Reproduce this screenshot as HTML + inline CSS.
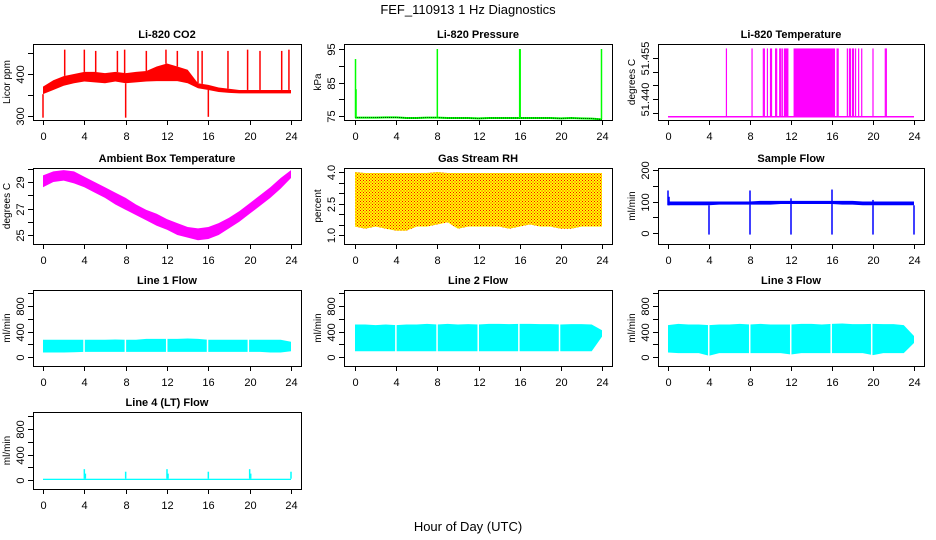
<!DOCTYPE html>
<html><head><meta charset="utf-8"><style>
html,body{margin:0;padding:0;background:#fff}
svg{display:block;font-family:"Liberation Sans",Arial,sans-serif}
</style></head><body>
<svg id="c" width="936" height="540" viewBox="0 0 936 540">
<defs><pattern id="rh" width="3" height="3" patternUnits="userSpaceOnUse"><rect width="3" height="3" fill="#ffff00"/><rect width="1" height="1" fill="#ff0000"/><rect x="1.5" y="1.5" width="1" height="1" fill="#ff0000"/></pattern></defs>
<text x="468" y="14" text-anchor="middle" font-size="13">FEF_110913  1 Hz Diagnostics</text>
<text x="468" y="531" text-anchor="middle" font-size="13">Hour of Day (UTC)</text>
</svg>
<script>
// ---------- data (estimated from reference) ----------
const hours = [0,1,2,3,4,5,6,7,8,9,10,11,12,13,14,15,16,17,18,19,20,21,22,23,24];
const xTickLabels = ['0','4','8','12','16','20','24'];
const co2Low  = [352,362,372,378,382,380,378,382,378,380,382,383,383,383,378,366,362,357,355,354,354,354,354,354,354];
const co2High = [370,385,395,400,405,405,402,405,402,405,407,418,425,418,410,378,374,368,365,362,362,362,362,362,362];
const co2SpikeT = [2.1,4.0,5.1,7.2,7.9,10.0,11.9,13.0,15.0,15.4,17.9,19.8,21.0,23.1,23.8];
const co2SpikeV = [458,458,455,455,458,455,458,455,455,455,455,458,455,455,458];
const co2DipT = [0.0,8.0,16.0];
const co2DipV = [296,296,298];
const presBase = [74.5,74.5,74.5,74.6,74.6,74.4,74.4,74.5,74.5,74.4,74.4,74.4,74.3,74.4,74.4,74.4,74.4,74.4,74.4,74.4,74.3,74.4,74.3,74.2,74.0];
const presSpikeT = [0.05,0.1,8.0,16.0,16.05,23.95];
const presSpikeV = [92,83,95,95,95,95];
const tempBase = 51.4335;
const tempTop = 51.4585;
const tempPulseT = [5.7,8.2,9.3,9.4,9.7,10.0,10.1,10.5,10.6,10.9,11.0,11.15,16.5,16.6,17.5,17.7,17.8,18.0,18.1,18.3,18.6,18.9,20.0,21.2,21.3];
const tempDenseStart = [11.3,12.25];
const tempDenseEnd = [11.75,16.3];
const ambLow  = [28.6,29.0,29.1,28.9,28.6,28.2,27.8,27.3,26.9,26.5,26.1,25.7,25.4,25.0,24.8,24.6,24.7,25.0,25.5,26.0,26.6,27.2,27.8,28.5,29.3];
const ambHigh = [29.5,29.8,29.9,29.8,29.4,29.0,28.6,28.2,27.8,27.3,26.9,26.6,26.2,25.9,25.6,25.5,25.6,25.9,26.3,26.8,27.4,28.0,28.6,29.3,29.9];
const rhLow  = [1.4,1.3,1.4,1.3,1.2,1.2,1.4,1.4,1.5,1.6,1.3,1.4,1.4,1.4,1.4,1.3,1.4,1.5,1.4,1.4,1.3,1.3,1.4,1.4,1.4];
const rhHigh = [4.0,3.95,3.95,3.95,3.95,3.95,3.95,3.95,4.0,3.95,3.95,3.95,3.95,3.95,3.95,3.95,3.95,3.95,3.95,3.95,3.95,3.95,3.95,3.95,3.95];
const flowLow  = [88,88,88,88,88,90,90,90,90,90,90,92,92,92,92,92,92,90,90,88,88,88,88,88,88];
const flowHigh = [100,100,100,100,100,100,100,100,100,102,102,102,102,102,102,102,102,102,102,100,100,100,100,100,100];
const flowSpikeT = [0.0,0.1,4.0,8.0,8.0,12.0,12.0,16.0,16.0,20.0,20.0,24.0];
const flowSpikeV = [135,115,-5,135,-5,110,-5,138,-5,105,-5,-5];
const gapT = [3.9,7.9,11.9,15.85,19.8];
const line1Low = [70,70,70,75,80,80,80,80,80,80,80,80,80,80,80,80,80,80,80,80,80,80,70,70,90];
const line1High = [270,270,270,270,270,270,270,275,270,270,285,285,285,285,290,285,270,270,270,270,270,270,270,270,240];
const line2Low = [90,90,90,90,90,90,90,90,90,90,90,90,90,90,90,90,90,90,90,90,90,90,90,90,320];
const line2High = [510,510,500,510,500,510,510,520,510,520,510,515,510,520,520,515,520,520,515,515,510,515,515,510,420];
const line3Low = [70,60,60,60,20,60,60,60,60,60,60,60,40,60,60,60,60,60,60,60,30,60,60,60,220];
const line3High = [500,520,510,510,500,510,510,520,510,520,510,510,510,520,520,510,520,525,515,515,520,515,515,500,330];
const line4SpikeT = [4.0,4.1,8.0,12.0,12.1,16.0,20.0,20.1,24.0];
const line4SpikeV = [170,100,130,170,100,130,170,100,130];
const line4Low = 0;
const line4High = 20;

// ---------- layout ----------
const svg = document.getElementById('c');
const NS = 'http://www.w3.org/2000/svg';
const cols = [{L:33,R:301,x0:43,x24:291},{L:344,R:612,x0:355,x24:602},{L:658,R:924,x0:668,x24:914}];
const rows = [{T:44,B:120},{T:168,B:244},{T:290,B:366},{T:412,B:489}];
function mk(tag, attrs, parent){const e=document.createElementNS(NS,tag);for(const k in attrs)e.setAttribute(k,attrs[k]);(parent||svg).appendChild(e);return e;}

function panel(ci,ri,name,title,ylab,v1,p1,v2,p2,ticks,labels){
  const c=cols[ci], r=rows[ri];
  const g=mk('g',{});
  
  
  const x=t=>c.x0+(c.x24-c.x0)*t/24;
  const y=v=>p1+(p2-p1)*(v-v1)/(v2-v1);
  const d=mk('g',{},g);
  
  
  const t=mk('text',{x:(c.L+c.R)/2,y:r.T-6,'text-anchor':'middle','font-size':11,'font-weight':'bold'},g);
  t.textContent=title;
  
  
  const xa=mk('g',{stroke:'#000','stroke-width':1},g);
  
  
  mk('line',{x1:x(0),x2:x(24),y1:r.B+0.5,y2:r.B+0.5},xa);
  xTickLabels.forEach(l=>{const xp=Math.round(x(+l))+0.5;mk('line',{x1:xp,x2:xp,y1:r.B,y2:r.B+5},xa);
    const tx=mk('text',{x:xp,y:r.B+20,'text-anchor':'middle','font-size':11,stroke:'none'},xa);tx.textContent=l;});
  const ya=mk('g',{stroke:'#000','stroke-width':1},g);
  
  
  mk('line',{x1:c.L+0.5,x2:c.L+0.5,y1:y(ticks[0]),y2:y(ticks[ticks.length-1])},ya);
  ticks.forEach((v,i)=>{const yp=Math.round(y(v))+0.5;mk('line',{x1:c.L-5,x2:c.L,y1:yp,y2:yp},ya);
    if(labels[i]){const tx=mk('text',{x:0,y:0,transform:`translate(${c.L-9},${yp}) rotate(-90)`,'text-anchor':'middle','font-size':11,stroke:'none'},ya);tx.textContent=labels[i];}});
  const yl=mk('text',{x:0,y:0,transform:`translate(${c.L-23},${(r.T+r.B)/2}) rotate(-90)`,'text-anchor':'middle','font-size':10},g);
  yl.textContent=ylab;
  
  
  const box=mk('rect',{x:c.L+0.5,y:r.T+0.5,width:c.R-c.L,height:r.B-r.T,fill:'none',stroke:'#000'},g);
  
  
  return {x,y,d,r};
}
function band(P,lo,hi,fill,name){
  let pts=hours.map((h,i)=>P.x(h)+','+P.y(hi[i]));
  pts=pts.concat(hours.slice().reverse().map((h,k)=>P.x(h)+','+P.y(lo[hours.length-1-k])));
  const e=mk('polygon',{points:pts.join(' '),fill:fill},P.d);
  
  
  return e;
}
function spikes(P,ts,vs,base,color,w,name){
  ts.forEach((t,i)=>{const e=mk('line',{x1:P.x(t),x2:P.x(t),y1:P.y(base(t)),y2:P.y(vs[i]),stroke:color,'stroke-width':w},P.d);
    
    });
}
function interp(arr,t){const i=Math.min(23,Math.floor(t));const f=t-i;return arr[i]*(1-f)+arr[i+1]*f;}
function gaps(P,name){gapT.forEach(t=>{const e=mk('rect',{x:P.x(t),y:P.r.T+2,width:Math.max(1.5,P.x(t+0.12)-P.x(t)),height:P.r.B-P.r.T-4,fill:'#fff'},P.d);
  
  });}

// CO2
let P=panel(0,0,'co2','Li-820 CO2','Licor ppm',300,116,400,74,[300,350,400,450],['300','','400','']);
band(P,co2Low,co2High,'#ff0000','co2-band');
spikes(P,co2SpikeT,co2SpikeV,t=>interp(co2High,t),'#ff0000',1.5,'co2-spike');
spikes(P,co2DipT,co2DipV,t=>interp(co2Low,t),'#ff0000',1.5,'co2-dip');
// Pressure
P=panel(1,0,'pressure','Li-820 Pressure','kPa',75,116,95,49,[75,80,85,90,95],['75','','85','','95']);
{const pl=mk('polyline',{points:hours.map((h,i)=>P.x(h)+','+P.y(presBase[i])).join(' '),fill:'none',stroke:'#00ff00','stroke-width':2},P.d);
 
 
 const dl=mk('polyline',{points:hours.map((h,i)=>P.x(h)+','+P.y(presBase[i])).join(' '),fill:'none',stroke:'#000','stroke-width':0.7,'stroke-dasharray':'1,1'},P.d);
 
 }
spikes(P,presSpikeT,presSpikeV,t=>interp(presBase,t),'#00ff00',1.5,'pressure-spike');
// Temperature
P=panel(2,0,'li820-temp','Li-820 Temperature','degrees C',51.440,99,51.455,58,[51.435,51.440,51.445,51.450,51.455],['','51.440','','','51.455']);
{const bl=mk('line',{x1:P.x(0),x2:P.x(24),y1:P.y(tempBase),y2:P.y(tempBase),stroke:'#ff00ff','stroke-width':1.5},P.d);
 
 }
tempDenseStart.forEach((s,i)=>{const e=mk('rect',{x:P.x(s),y:P.y(tempTop),width:P.x(tempDenseEnd[i])-P.x(s),height:P.y(tempBase)-P.y(tempTop),fill:'#ff00ff'},P.d);
  
  });
spikes(P,tempPulseT,tempPulseT.map(()=>tempTop),()=>tempBase,'#ff00ff',1.2,'li820-temp-pulse');
// Ambient
P=panel(0,1,'ambient','Ambient Box Temperature','degrees C',25,235,29,182,[25,26,27,28,29,30],['25','','27','','29','']);
band(P,ambLow,ambHigh,'#ff00ff','ambient-band');
// RH
P=panel(1,1,'gas-rh','Gas Stream RH','percent',1.0,235,4.0,172,[1.0,1.5,2.0,2.5,3.0,3.5,4.0],['1.0','','','2.5','','','4.0']);
band(P,rhLow,rhHigh,'url(#rh)','gas-rh-band');
// Sample flow
P=panel(2,1,'sample-flow','Sample Flow','ml/min',0,233,200,170,[0,50,100,150,200],['0','','100','','200']);
band(P,flowLow,flowHigh,'#0000ff','sample-flow-band');
spikes(P,flowSpikeT,flowSpikeV,t=>interp(flowLow,t),'#0000ff',1.5,'sample-flow-spike');
// Line flows
const ft=[0,200,400,600,800,1000], fl=['0','','400','','800',''];
P=panel(0,2,'line1-flow','Line 1 Flow','ml/min',0,357,800,306,ft,fl);
band(P,line1Low,line1High,'#00ffff','line1-flow-band'); gaps(P,'line1-flow-gap');
P=panel(1,2,'line2-flow','Line 2 Flow','ml/min',0,357,800,306,ft,fl);
band(P,line2Low,line2High,'#00ffff','line2-flow-band'); gaps(P,'line2-flow-gap');
P=panel(2,2,'line3-flow','Line 3 Flow','ml/min',0,357,800,306,ft,fl);
band(P,line3Low,line3High,'#00ffff','line3-flow-band'); gaps(P,'line3-flow-gap');
P=panel(0,3,'line4-flow','Line 4 (LT) Flow','ml/min',0,480,800,429,ft,fl);
{const r=mk('rect',{x:P.x(0),y:P.y(line4High),width:P.x(24)-P.x(0),height:P.y(line4Low)-P.y(line4High),fill:'#00ffff'},P.d);
 
 }
spikes(P,line4SpikeT,line4SpikeV,()=>line4High,'#00ffff',1.5,'line4-flow-spike');
</script>
</body></html>
